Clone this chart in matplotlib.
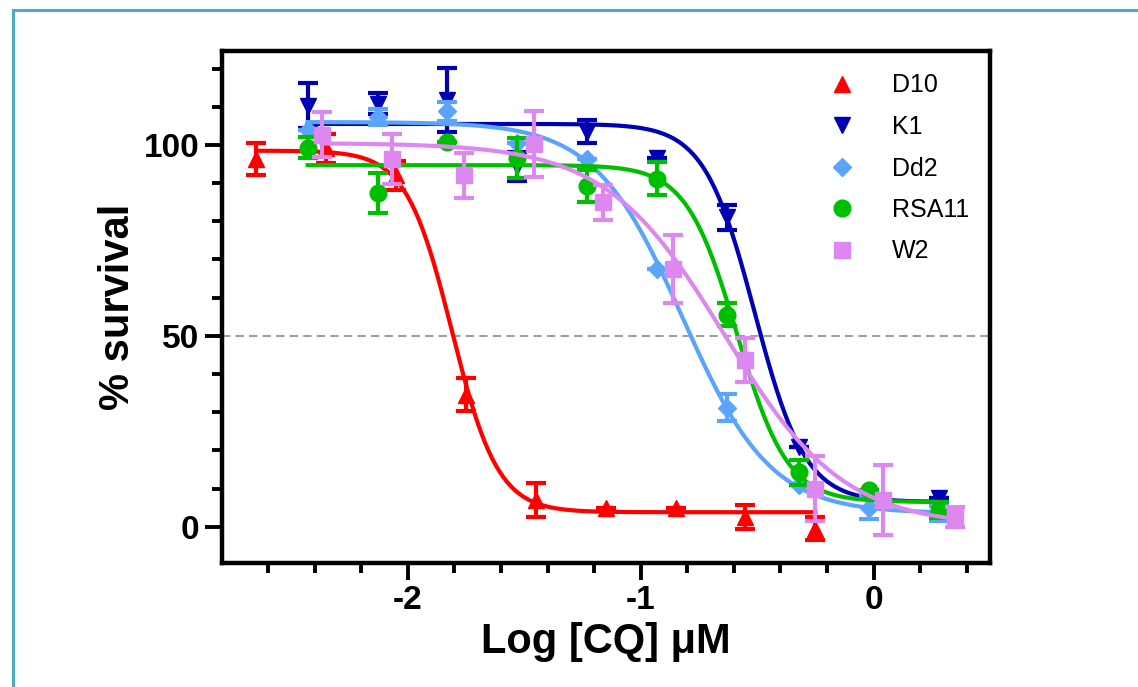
import matplotlib
matplotlib.use("Agg")
import matplotlib.pyplot as plt
from matplotlib.lines import Line2D
from matplotlib.ticker import FixedLocator
import numpy as np

plt.rcParams['font.family'] = ['Liberation Sans', 'DejaVu Sans']
plt.rcParams['axes.unicode_minus'] = False

# log [CQ] (uM) for each strain
x_d10 = [-2.65, -2.35, -2.05, -1.75, -1.45, -1.15, -0.85, -0.55, -0.25]
x_k1 = [-2.43, -2.13, -1.83, -1.53, -1.23, -0.93, -0.63, -0.32, -0.02, 0.28]
x_dd2 = [-2.43, -2.13, -1.83, -1.53, -1.23, -0.93, -0.63, -0.32, -0.02, 0.28]
x_rsa11 = [-2.43, -2.13, -1.83, -1.53, -1.23, -0.93, -0.63, -0.32, -0.02, 0.28]
x_w2 = [-2.37, -2.07, -1.76, -1.46, -1.16, -0.86, -0.55, -0.25, 0.04, 0.35]

# % survival (mean) and error
y_d10 = [96.3, 99.1, 92.0, 34.6, 7.0, 5.0, 5.0, 2.5, -0.5]
e_d10 = [4.2, 3.8, 3.8, 4.3, 4.4, 0, 0, 3.2, 3.0]
y_k1 = [110.3, 110.8, 111.8, 94.4, 103.5, 96.7, 81.0, 20.9, 8.0, 7.6]
e_k1 = [5.9, 2.8, 8.3, 3.8, 3.0, 0, 3.3, 0, 0, 0]
y_dd2 = [104.0, 107.3, 108.8, 100.5, 96.3, 67.5, 31.2, 11.0, 5.0, 3.5]
e_dd2 = [0, 2.0, 2.5, 0, 0, 0, 3.6, 0, 3.0, 2.0]
y_rsa11 = [99.3, 87.5, 100.8, 96.5, 89.2, 91.2, 55.5, 14.3, 9.6, 4.4]
e_rsa11 = [2.8, 5.2, 0, 5.2, 4.2, 4.2, 3.0, 3.3, 0, 2.0]
y_w2 = [102.7, 96.3, 92.0, 100.3, 85.0, 67.5, 43.7, 9.9, 7.0, 2.6]
e_w2 = [5.8, 6.5, 5.8, 8.7, 4.6, 8.9, 5.7, 8.5, 9.2, 2.6]

# 4PL fit parameters: top, bottom, logIC50, hill slope
fit_d10 = [98.5, 3.8, -1.81, 4.4]
fit_k1 = [105.5, 6.5, -0.51, 4.0]
fit_dd2 = [106.0, 3.5, -0.82, 2.3]
fit_rsa11 = [94.7, 6.5, -0.587, 4.0]
fit_w2 = [100.5, 0.0, -0.64, 1.7]

names = ['D10', 'K1', 'Dd2', 'RSA11', 'W2']
colors = ['#FF0000', '#0000B4', '#5AA5FA', '#00BE00', '#DD88F0']
markers = ['^', 'v', 'D', 'o', 's']
msizes = [12, 12, 9.5, 12, 11.5]


def four_pl(x, p):
    top, bottom, ic50, hill = p
    return bottom + (top - bottom) / (1 + 10 ** ((x - ic50) * hill))


series = [
    (x_d10, y_d10, e_d10, fit_d10),
    (x_k1, y_k1, e_k1, fit_k1),
    (x_dd2, y_dd2, e_dd2, fit_dd2),
    (x_rsa11, y_rsa11, e_rsa11, fit_rsa11),
    (x_w2, y_w2, e_w2, fit_w2),
]

fig = plt.figure(figsize=(11.38, 6.87), dpi=100)
ax = fig.add_axes([221.5 / 1138, 1 - 563 / 687, (990 - 221.5) / 1138, (563 - 51) / 687])

ax.axhline(50, color='#A0A0A0', lw=1.5, linestyle=(0, (4, 2.5)), zorder=1)

for i, (xs, ys, es, fit) in enumerate(series):
    xc = np.linspace(min(xs), max(xs), 300)
    ax.plot(xc, four_pl(xc, fit), color=colors[i], lw=3, zorder=2 + i)
    ax.errorbar(xs, ys, yerr=es, fmt=markers[i], color=colors[i], ms=msizes[i],
                mec=colors[i], elinewidth=3, capsize=7, capthick=3, zorder=2 + i)

ax.set_xlim(-2.8, 0.5)
ax.set_ylim(-9.5, 124.6)
ax.set_xticks([-2, -1, 0])
ax.set_yticks([0, 50, 100])
ax.xaxis.set_minor_locator(FixedLocator([v for v in np.arange(-2.6, 0.41, 0.2) if abs(v - round(v)) > 0.01]))
ax.yaxis.set_minor_locator(FixedLocator([v for v in range(10, 121, 10) if v % 50 != 0]))
ax.tick_params(which='major', direction='out', length=12, width=2.8, labelsize=24, pad=4)
ax.tick_params(which='minor', direction='out', length=7, width=2.8)
for lab in ax.get_xticklabels() + ax.get_yticklabels():
    lab.set_fontweight('bold')
for sp in ax.spines.values():
    sp.set_linewidth(3.2)

ax.set_xlabel('Log [CQ] μM', fontsize=30, fontweight='bold')
ax.set_ylabel('% survival', fontsize=30, fontweight='bold')

handles = [Line2D([], [], marker=markers[i], color=colors[i], linestyle='none',
                  ms=msizes[i]) for i in range(5)]
ax.legend(handles, names, loc='upper left', bbox_to_anchor=(804 / 1138, 1 - 61 / 687),
          bbox_transform=fig.transFigure, frameon=False, fontsize=18, borderpad=0,
          handlelength=2, handletextpad=1.0, labelspacing=0.7)

# teal frame line (top and left)
fig.add_artist(Line2D([13 / 1138, 1], [1 - 10 / 687, 1 - 10 / 687], color='#4BACC6', lw=2.2))
fig.add_artist(Line2D([13 / 1138, 13 / 1138], [0, 1 - 10 / 687], color='#4BACC6', lw=2.2))

fig.savefig('out.png', dpi=100)
